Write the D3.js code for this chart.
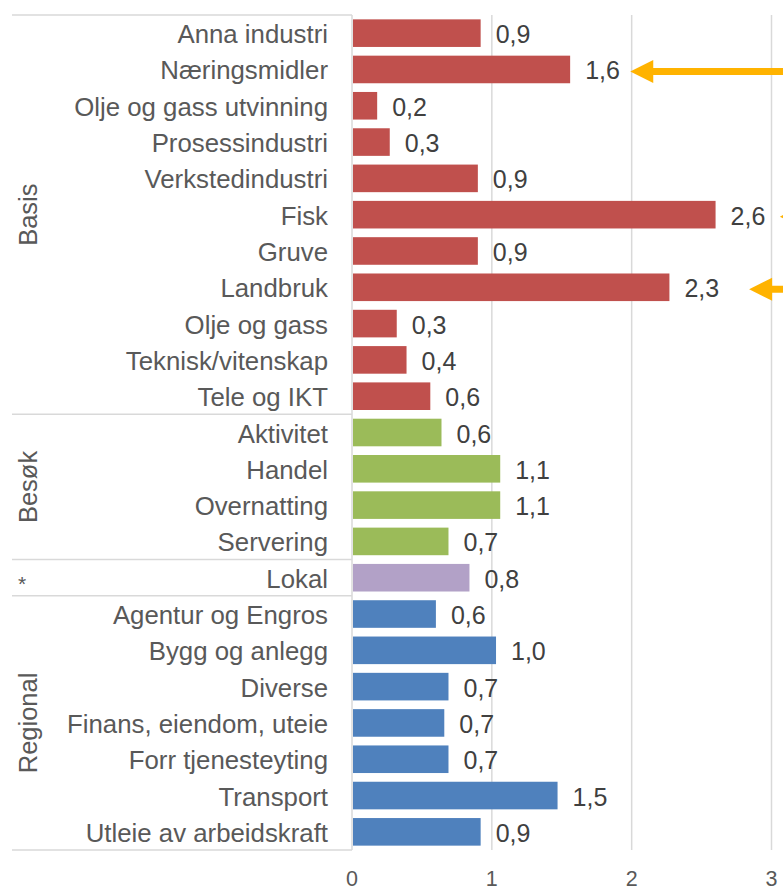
<!DOCTYPE html>
<html>
<head>
<meta charset="utf-8">
<script src="https://cdn.jsdelivr.net/npm/d3@7/dist/d3.min.js"></script>
<style>
  html, body { margin: 0; padding: 0; background: #ffffff; }
  svg { display: block; }
  text { font-family: "Liberation Sans", Arial, sans-serif; }
</style>
</head>
<body>
<div id="chart"></div>
<script>
// ---- Data ----
const categories = [
  "Anna industri", "Næringsmidler", "Olje og gass utvinning", "Prosessindustri",
  "Verkstedindustri", "Fisk", "Gruve", "Landbruk", "Olje og gass",
  "Teknisk/vitenskap", "Tele og IKT",
  "Aktivitet", "Handel", "Overnatting", "Servering",
  "Lokal",
  "Agentur og Engros", "Bygg og anlegg", "Diverse", "Finans, eiendom, uteie",
  "Forr tjenesteyting", "Transport", "Utleie av arbeidskraft"
];
const values = [
  0.92, 1.56, 0.18, 0.27, 0.90, 2.60, 0.90, 2.27, 0.32, 0.39, 0.56,
  0.64, 1.06, 1.06, 0.69,
  0.84,
  0.60, 1.03, 0.69, 0.66, 0.69, 1.47, 0.92
];
const groupNames = ["Basis", "Besøk", "*", "Regional"];
const groupSizes = [11, 4, 1, 7];
const groupColors = ["#C0504D", "#9BBB59", "#B2A1C7", "#4F81BD"];
const xTicks = [0, 1, 2, 3];
// arrows: category and tip position in data units
const arrowCats = ["Næringsmidler", "Fisk", "Landbruk"];
const arrowTips = [1.99, 3.06, 2.84];

// ---- Layout ----
const W = 783, H = 891;
const x0 = 352, x3 = 771.5;
const yTop = 15, yBot = 850;
const tableLeft = 12;

const svg = d3.select("#chart").append("svg").attr("width", W).attr("height", H);

const x = d3.scaleLinear().domain([0, 3]).range([x0, x3]);
const y = d3.scaleBand().domain(categories).range([yTop, yBot]).paddingInner(0.24).paddingOuter(0.12);

// group index for each category
const groupOf = [];
groupSizes.forEach((n, g) => { for (let i = 0; i < n; i++) groupOf.push(g); });

const grid = "#D9D9D9";

// vertical gridlines
svg.append("g").selectAll("line").data(xTicks).join("line")
  .attr("x1", d => x(d)).attr("x2", d => x(d))
  .attr("y1", yTop).attr("y2", yBot)
  .attr("stroke", grid).attr("stroke-width", 1.5);

// group separator lines in label table
const step = y.step();
const boundaries = [0];
groupSizes.reduce((acc, n) => { boundaries.push(acc + n); return acc + n; }, 0);
svg.append("g").selectAll("line").data(boundaries).join("line")
  .attr("x1", tableLeft).attr("x2", x0)
  .attr("y1", d => yTop + d * step).attr("y2", d => yTop + d * step)
  .attr("stroke", grid).attr("stroke-width", 1.5);

// bars
svg.append("g").selectAll("rect").data(categories).join("rect")
  .attr("x", x(0) + 1)
  .attr("y", d => y(d))
  .attr("width", (d, i) => x(values[i]) - x(0) - 1)
  .attr("height", y.bandwidth())
  .attr("fill", (d, i) => groupColors[groupOf[i]]);

// value labels
const fmt = v => v.toFixed(1).replace(".", ",");
svg.append("g").selectAll("text").data(categories).join("text")
  .attr("x", (d, i) => x(values[i]) + 15)
  .attr("y", d => y(d) + y.bandwidth() / 2 + 1)
  .attr("dominant-baseline", "central")
  .attr("font-size", 25)
  .attr("fill", "#404040")
  .text((d, i) => fmt(values[i]));

// category labels
svg.append("g").selectAll("text").data(categories).join("text")
  .attr("x", 328)
  .attr("y", d => y(d) + y.bandwidth() / 2 + 1)
  .attr("text-anchor", "end")
  .attr("dominant-baseline", "central")
  .attr("font-size", 25.8)
  .attr("fill", "#595959")
  .text(d => d);

// group labels
svg.append("g").selectAll("text").data(groupNames).join("text")
  .attr("transform", (d, g) => {
    const cy = yTop + (boundaries[g] + boundaries[g + 1]) / 2 * step;
    return d === "*" ? `translate(22,${cy + 6})` : `translate(28,${cy}) rotate(-90)`;
  })
  .attr("text-anchor", "middle")
  .attr("dominant-baseline", "central")
  .attr("font-size", d => d === "*" ? 21 : 25.5)
  .attr("fill", "#595959")
  .text(d => d);

// x axis tick labels
svg.append("g").selectAll("text").data(xTicks).join("text")
  .attr("x", d => x(d))
  .attr("y", 886)
  .attr("text-anchor", "middle")
  .attr("font-size", 21.5)
  .attr("fill", "#595959")
  .text(d => d);

// arrows
const orange = "#FFB300";
const ag = svg.append("g");
arrowCats.forEach((c, k) => {
  const yc = y(c) + y.bandwidth() / 2 + 2;
  const tip = x(arrowTips[k]);
  ag.append("line")
    .attr("x1", tip + 18).attr("x2", W + 40)
    .attr("y1", yc).attr("y2", yc)
    .attr("stroke", orange).attr("stroke-width", 7);
  ag.append("path")
    .attr("d", `M${tip},${yc} L${tip + 23},${yc - 11.5} L${tip + 23},${yc + 11.5} Z`)
    .attr("fill", orange);
});
</script>
</body>
</html>
